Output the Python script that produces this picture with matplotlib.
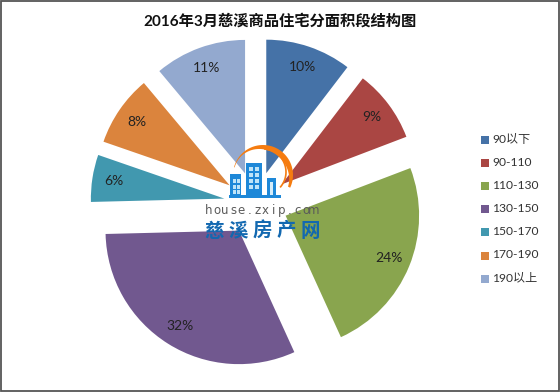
import numpy as np
import matplotlib
matplotlib.use("Agg")
import matplotlib.pyplot as plt
from matplotlib.patches import Rectangle, Polygon

plt.rcParams['font.family'] = ['Noto Sans CJK SC', 'DejaVu Sans']
LATIN_CJK = ['Lato', 'Noto Sans CJK SC']

categories = ['90以下', '90-110', '110-130', '130-150', '150-170', '170-190', '190以上']
slice_shares = [10.4, 8.8, 24.0, 31.4, 5.7, 8.6, 11.1]   # as drawn (measured from slice angles)
pct_labels = ['10%', '9%', '24%', '32%', '6%', '8%', '11%']  # as printed
colors = ['#4572A7', '#AA4643', '#89A54E', '#71588F', '#4198AF', '#DB843D', '#93A9CF']
title = '2016年3月慈溪商品住宅分面积段结构图'
site = 'house.zxip.com'
site_cn = '慈溪房产网'

W, H = 560, 392
fig = plt.figure(figsize=(W / 100, H / 100), dpi=100, facecolor='white')

# pie axes: one data unit = R px
R = 133.5
cx, cy = 256.0, 203.5
ax = fig.add_axes([0, 0, 1, 1])
wedges, _ = ax.pie(slice_shares, explode=[32 / R] * len(slice_shares), colors=colors,
                   startangle=90, counterclock=False)
ax.set_xlim(-cx / R, (W - cx) / R)
ax.set_ylim((cy - H) / R, cy / R)
ax.set_aspect('equal')
ax.set_axis_off()
for w, lab in zip(wedges, pct_labels):
    t = np.deg2rad((w.theta1 + w.theta2) / 2)
    x0, y0 = w.center
    ax.text(x0 + 0.84 * np.cos(t), y0 + 0.84 * np.sin(t), lab, ha='center', va='center',
            fontsize=10, family=LATIN_CJK, color='#222222')

# overlay in pixel coordinates for title, legend, logo and frame
ov = fig.add_axes([0, 0, 1, 1], facecolor='none')
ov.set_xlim(0, W)
ov.set_ylim(H, 0)
ov.set_axis_off()

ov.text(279.5, 21, title, ha='center', va='center', fontsize=11, fontweight='bold',
        family=LATIN_CJK, color='#111111')

for i, (lab, col) in enumerate(zip(categories, colors)):
    y = 139.5 + i * 23.1
    ov.add_patch(Rectangle((481, y - 3.5), 8, 8, facecolor=col, edgecolor='none'))
    ov.text(492, y, lab, ha='left', va='center', fontsize=8.7, family=LATIN_CJK, color='#333333')

# logo: buildings
blue = '#1E88D8'
ov.add_patch(Rectangle((229, 195), 52, 2.5, facecolor=blue, edgecolor='none', zorder=5))
for (x, y, w, h) in [(230, 174, 11, 21), (246, 163, 16, 32), (267, 178, 9, 17)]:
    ov.add_patch(Rectangle((x, y), w, h, facecolor=blue, edgecolor='none', zorder=5))
for x in (233, 237):
    for y in (179, 185, 190):
        ov.add_patch(Rectangle((x, y), 2.5, 3.5, facecolor='#BFE4F8', edgecolor='none', zorder=6))
for x in (249, 255):
    for y in (167, 173, 179, 185):
        ov.add_patch(Rectangle((x, y), 3.5, 3.5, facecolor='#BFE4F8', edgecolor='none', zorder=6))
ov.add_patch(Rectangle((270, 182), 3, 13, facecolor='#D5ECF9', edgecolor='none', zorder=6))

# logo: orange swooshes (tapered crescent and a thin inner arc)
orange = '#F57C10'
a = np.deg2rad(np.linspace(195, 385, 60))
thick = 0.6 + 5.2 * np.sin((a - a[0]) / (a[-1] - a[0]) * np.pi * 0.8) ** 2
outer = np.column_stack([263 + 30 * np.cos(a), 175 + 30 * np.sin(a)])
inner = np.column_stack([263 + (30 - thick) * np.cos(a), 175 + (30 - thick) * np.sin(a)])
ov.add_patch(Polygon(np.vstack([outer, inner[::-1]]), facecolor=orange, edgecolor='none', zorder=4))
b = np.deg2rad(np.linspace(275, 400, 40))
ov.plot(263 + 23 * np.cos(b), 172 + 23 * np.sin(b), color=orange, lw=1.2, zorder=4)

# logo: text
for i, ch in enumerate(site):
    ov.text(209 + i * 8.07, 210, ch, ha='center', va='center', fontsize=8.5,
            family='DejaVu Sans', color='#5a5a5a', zorder=6)
for xc, ch in zip(np.linspace(214, 310, len(site_cn)), site_cn):
    ov.text(xc, 231, ch, ha='center', va='center', fontsize=14, fontweight='bold',
            color='#1268B0', zorder=6)

# outer frame on all four sides
ov.add_patch(Rectangle((0.8, 0.8), W - 2.3, H - 1.6, facecolor='none', edgecolor='#555555',
                       lw=1.3, zorder=7))

fig.savefig('out.png', dpi=100)
